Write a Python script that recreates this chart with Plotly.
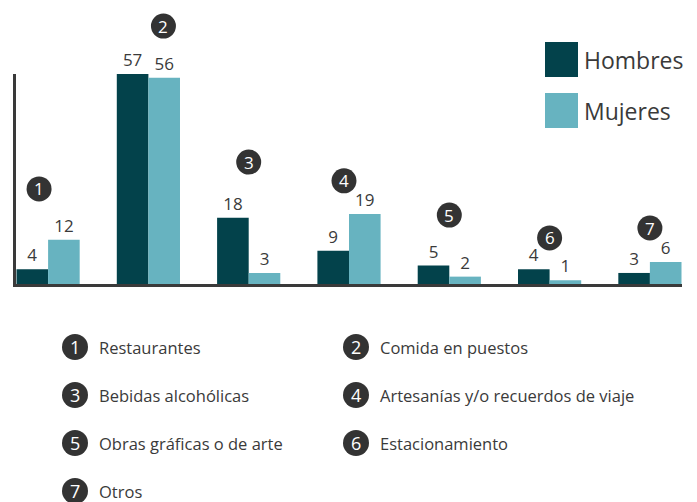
import plotly.graph_objects as go

categories = ["Restaurantes", "Comida en puestos", "Bebidas alcohólicas",
              "Artesanías y/o recuerdos de viaje", "Obras gráficas o de arte",
              "Estacionamiento", "Otros"]
badge_labels = ["1", "2", "3", "4", "5", "6", "7"]
hombres = [4, 57, 18, 9, 5, 4, 3]
mujeres = [12, 56, 3, 19, 2, 1, 6]
series_names = ["Hombres", "Mujeres"]

# layout helpers (positions of the numbered badges, in axis units)
badge_dx = [-0.09, 0.15, 0, -0.05, 0, 0, 0]
badge_y = [25.8, 70, 33.1, 28, 18.7, 12.5, 15.2]

C_H = "#03424B"
C_M = "#67B3C0"
C_TXT = "#3a3a3a"
C_BADGE = "#333333"
FONT = "Open Sans"

W, H = 697, 502
L, R, T, B = 16, 15, 74, 218
PW, PH = W - L - R, H - T - B
XR = [-0.32, 6.32]
YR = [0, 57]

def px(x):
    return (x - L) / PW

def py(y):
    return (H - B - y) / PH

def dx2p(v):
    return (v - XR[0]) / (XR[1] - XR[0])

def dy2p(v):
    return (v - YR[0]) / (YR[1] - YR[0])

xi = list(range(len(categories)))

fig = go.Figure()
for name, vals, col in [(series_names[0], hombres, C_H), (series_names[1], mujeres, C_M)]:
    fig.add_trace(go.Bar(
        x=xi, y=vals, name=name, marker=dict(color=col, line=dict(width=0)),
        text=vals, textposition="outside", cliponaxis=False, constraintext="none",
        textfont=dict(size=17, color=C_TXT, family=FONT), showlegend=False,
    ))

shapes = []
annotations = []

def badge(xp, yp, lab, r=12.5, fs=17):
    shapes.append(dict(type="circle", xref="paper", yref="paper",
                       xsizemode="pixel", ysizemode="pixel",
                       xanchor=xp, yanchor=yp,
                       x0=-r, x1=r, y0=-r, y1=r,
                       fillcolor=C_BADGE, line=dict(width=0)))
    annotations.append(dict(xref="paper", yref="paper", x=xp, y=yp,
                            xanchor="center", yanchor="middle", showarrow=False,
                            text=lab, font=dict(size=fs, color="white", family=FONT)))

# numbered badges above each group
for i, d, yb, lab in zip(xi, badge_dx, badge_y, badge_labels):
    badge(dx2p(i + d), dy2p(yb), lab)

# top-right legend
leg_rows = [(42, 77, 59.5), (93, 128, 110.5)]
for (y0, y1, yc), name, col in zip(leg_rows, series_names, [C_H, C_M]):
    shapes.append(dict(type="rect", xref="paper", yref="paper",
                       x0=px(545), x1=px(578), y0=py(y1), y1=py(y0),
                       fillcolor=col, line=dict(width=0)))
    annotations.append(dict(xref="paper", yref="paper", x=px(582), y=py(yc),
                            xanchor="left", yanchor="middle", showarrow=False,
                            text=name, font=dict(size=23, color=C_TXT, family=FONT)))

# bottom numbered key
rows_y = [347, 395, 443, 491]
cols_x = [75, 356]
for k, (lab, cat) in enumerate(zip(badge_labels, categories)):
    cx = cols_x[k % 2]
    cy = rows_y[k // 2]
    badge(px(cx), py(cy), lab, r=13, fs=18)
    annotations.append(dict(xref="paper", yref="paper", x=px(cx + 22), y=py(cy),
                            xanchor="left", yanchor="middle", showarrow=False,
                            text=cat, font=dict(size=16.5, color=C_TXT, family=FONT)))

fig.update_layout(
    width=W, height=H, margin=dict(l=L, r=R, t=T, b=B),
    paper_bgcolor="white", plot_bgcolor="white",
    barmode="group", bargap=0.37, bargroupgap=0,
    shapes=shapes, annotations=annotations,
    font=dict(family=FONT, color=C_TXT),
    xaxis=dict(range=XR, showgrid=False, zeroline=False,
               showticklabels=False, ticks="", showline=True,
               linecolor="#3a3a3a", linewidth=3, fixedrange=True),
    yaxis=dict(range=YR, showgrid=False, zeroline=False,
               showticklabels=False, ticks="", showline=True,
               linecolor="#3a3a3a", linewidth=3, fixedrange=True),
)

fig.write_html("out.html", config={"displayModeBar": False},
               post_script="document.body.style.margin='0';document.body.style.overflow='hidden';")
